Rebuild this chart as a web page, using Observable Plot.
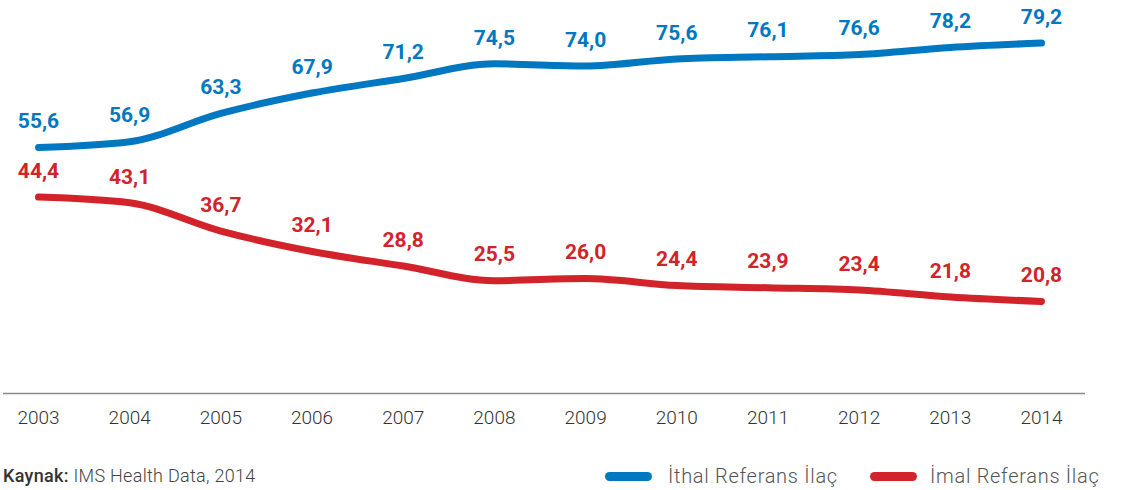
<!DOCTYPE html>
<html><head><meta charset="utf-8">
<script src="https://cdn.jsdelivr.net/npm/d3@7"></script>
<script src="https://cdn.jsdelivr.net/npm/@observablehq/plot@0.6"></script>
<style>
body{margin:0;background:#fff;font-family:Roboto,"Noto Sans",sans-serif;}
#foot{position:relative;height:50px;font-size:18px;color:#444;font-weight:300;}
#src{position:absolute;left:3px;top:25px;letter-spacing:0.3px;}
.leg{position:absolute;top:24px;display:flex;align-items:center;font-size:20px;color:#555;font-weight:300;letter-spacing:0.7px;}
.sw{display:inline-block;width:47px;height:9px;border-radius:5px;margin-right:16px;}
</style></head><body>
<div id="chart"></div>
<div id="foot">
  <div id="src"><b style="color:#333;font-weight:500">Kaynak:</b> IMS Health Data, 2014</div>
  <div class="leg" style="left:605px"><span class="sw" style="background:#0078c1"></span>İthal Referans İlaç</div>
  <div class="leg" style="left:870px"><span class="sw" style="background:#d2232a;margin-right:13px"></span>İmal Referans İlaç</div>
</div>
<script>
const years = [2003,2004,2005,2006,2007,2008,2009,2010,2011,2012,2013,2014];
const ithal = [55.6,56.9,63.3,67.9,71.2,74.5,74.0,75.6,76.1,76.6,78.2,79.2];
const imal  = [44.4,43.1,36.7,32.1,28.8,25.5,26.0,24.4,23.9,23.4,21.8,20.8];
const seriesNames = ["İthal Referans İlaç","İmal Referans İlaç"];
const colors = ["#0078c1","#d2232a"];

const data = [];
years.forEach((y,i)=>{
  data.push({year:y, value:ithal[i], s:seriesNames[0]});
  data.push({year:y, value:imal[i], s:seriesNames[1]});
});
const fmt = v => d3.format(".1f")(v).replace(".", ",");

const chart = Plot.plot({
  width:1124, height:440,
  marginLeft:38, marginRight:83, marginTop:39, marginBottom:47,
  style:{fontFamily:"Roboto, 'Noto Sans', sans-serif", background:"#fff"},
  x:{type:"linear", domain:[2003,2014], label:null},
  y:{domain:[0,80], axis:null},
  color:{domain:seriesNames, range:colors},
  marks:[
    Plot.ruleY([0], {stroke:"#8a8a8a", strokeWidth:1.5, insetLeft:-35, insetRight:-44}),
    Plot.axisX({ticks:years, tickFormat:d=>String(d), tickSize:0, tickPadding:17, fontSize:19, fontWeight:300, fill:"#333", label:null}),
    Plot.line(data, {x:"year", y:"value", z:"s", stroke:"s", strokeWidth:7, strokeLinecap:"round", curve:"monotone-x"}),
    Plot.text(data, {x:"year", y:"value", text:d=>fmt(d.value), fill:"s", dy:-26, fontSize:21, fontWeight:"bold"})
  ]
});
document.getElementById("chart").appendChild(chart);
</script>
</body></html>
